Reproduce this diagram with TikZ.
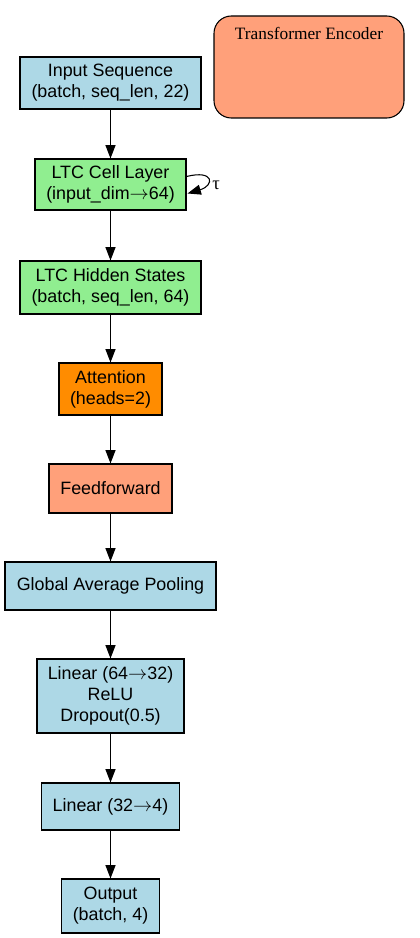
\documentclass[tikz,border=0pt]{standalone}
\usepackage{fontspec}
\usetikzlibrary{arrows.meta,calc}
\newfontfamily\arialf{Liberation Sans}
\newfontfamily\timesf{Liberation Serif}
\definecolor{lblue}{HTML}{ADD8E6}
\definecolor{lgreen}{HTML}{90EE90}
\definecolor{dorange}{HTML}{FF8C00}
\definecolor{lsalmon}{HTML}{FFA07A}
\newcommand{\myarr}{\ensuremath{\rightarrow}}
\begin{document}
\begin{tikzpicture}[x=0.75pt,y=-0.75pt,
  box/.style={draw=black,line width=0.8pt,inner sep=0pt,align=center,
    font=\arialf\fontsize{13.4}{15.7}\selectfont},
  conn/.style={line width=0.8pt,-{Triangle[length=10pt,width=7.5pt]}}]
\useasboundingbox (0,0) rectangle (420,938);
\node[box,fill=lsalmon,rounded corners=13pt,minimum width=142.5pt,minimum height=76.5pt] (te) at (309,67) {};
\node[font=\timesf\fontsize{13}{15}\selectfont] (tetitle) at (309,33) {Transformer Encoder};
\node[box,fill=lblue,minimum width=135.75pt,minimum height=39pt] (inp) at (110.5,83) {Input Sequence\\(batch, seq\_len, 22)};
\node[box,fill=lgreen,minimum width=113.25pt,minimum height=38.25pt] (ltc) at (110.5,184.5) {LTC Cell Layer\\(input\_dim\myarr64)};
\node[box,fill=lgreen,minimum width=135.75pt,minimum height=39.75pt] (hid) at (110.5,287.5) {LTC Hidden States\\(batch, seq\_len, 64)};
\node[box,fill=dorange,minimum width=77.25pt,minimum height=39pt] (att) at (110.5,389) {Attention\\(heads=2)};
\node[box,fill=lsalmon,minimum width=92.25pt,minimum height=36.75pt] (ff) at (110.5,488.5) {Feedforward};
\node[box,fill=lblue,minimum width=158.25pt,minimum height=36pt] (gap) at (110.5,586) {Global Average Pooling};
\node[box,fill=lblue,minimum width=110.25pt,minimum height=55.5pt] (lin1) at (110.5,696) {Linear (64\myarr32)\\ReLU\\Dropout(0.5)};
\node[box,fill=lblue,minimum width=103.5pt,minimum height=35.25pt] (lin2) at (110.5,806.5) {Linear (32\myarr4)};
\node[box,fill=lblue,minimum width=73.5pt,minimum height=40.5pt] (out) at (110.5,906) {Output\\(batch, 4)};
\draw[conn] (inp.south) -- (ltc.north);
\draw[conn] (ltc.south) -- (hid.north);
\draw[conn] (hid.south) -- (att.north);
\draw[conn] (att.south) -- (ff.north);
\draw[conn] (ff.south) -- (gap.north);
\draw[conn] (gap.south) -- (lin1.north);
\draw[conn] (lin1.south) -- (lin2.north);
\draw[conn] (lin2.south) -- (out.north);
\draw[conn] ($(ltc.east)+(0,-8)$) .. controls ($(ltc.east)+(28,-15)$) and ($(ltc.east)+(28,1)$) .. ($(ltc.east)+(1,9)$);
\node[font=\timesf\fontsize{14}{16}\selectfont,inner sep=0pt] (tau) at (216,185) {τ};
\end{tikzpicture}
\end{document}
